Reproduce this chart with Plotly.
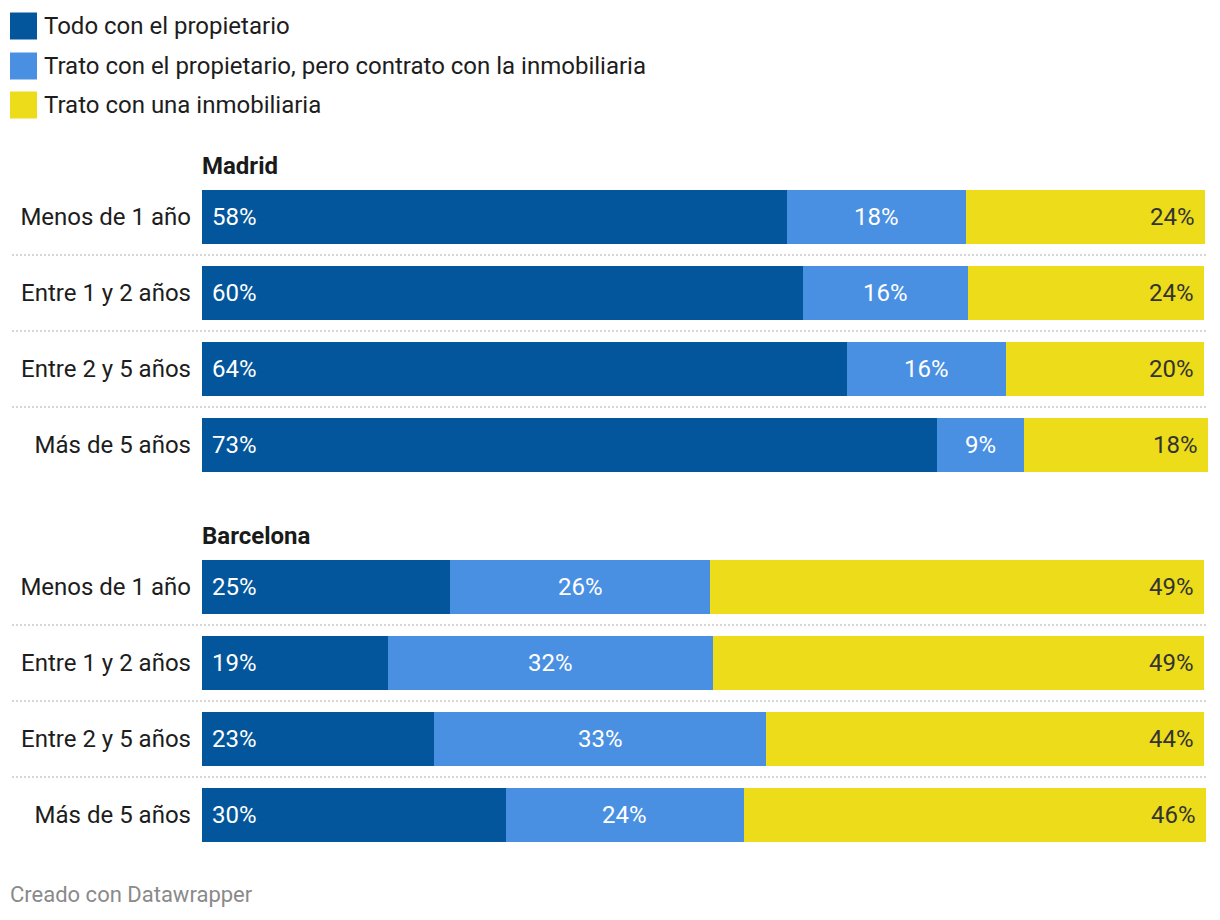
import plotly.graph_objects as go

# ---------------- data ----------------
categories = ["Menos de 1 año", "Entre 1 y 2 años", "Entre 2 y 5 años", "Más de 5 años"]
series_names = [
    "Todo con el propietario",
    "Trato con el propietario, pero contrato con la inmobiliaria",
    "Trato con una inmobiliaria",
]
madrid_propietario = [58.4, 60.0, 64.4, 73.4]
madrid_mixto = [17.8, 16.4, 15.8, 8.6]
madrid_inmobiliaria = [23.9, 23.6, 19.8, 18.4]
barcelona_propietario = [24.8, 18.6, 23.2, 30.3]
barcelona_mixto = [25.9, 32.4, 33.1, 23.8]
barcelona_inmobiliaria = [49.3, 49.0, 43.7, 46.1]
panel_titles = ["Madrid", "Barcelona"]
footer_text = "Creado con Datawrapper"

# ---------------- style ----------------
W, H = 1220, 920
colors = ["#03569b", "#4a90e2", "#ecdc19"]
label_colors = ["#ffffff", "#ffffff", "#333333"]
FONT = "Roboto"
FS = 24
x_left_px, x_right_px = 202, 1208


def py(px):
    return 1 - px / H


def pxx(px):
    return px / W


panels = [
    (panel_titles[0], [madrid_propietario, madrid_mixto, madrid_inmobiliaria], "x", "y", (179, 483)),
    (panel_titles[1], [barcelona_propietario, barcelona_mixto, barcelona_inmobiliaria], "x2", "y2", (549, 853)),
]

max_total = max(
    sum(v) for _, vals, _, _, _ in panels for v in zip(*vals)
)

fig = go.Figure()
annotations = []
shapes = []

for title, vals, xa, ya, (top_px, bot_px) in panels:
    for i, (name, v) in enumerate(zip(series_names, vals)):
        fig.add_trace(go.Bar(
            x=v, y=categories, orientation="h", name=name,
            marker=dict(color=colors[i], line=dict(width=0)),
            xaxis=xa, yaxis=ya, showlegend=False, hoverinfo="x+y",
        ))
    # value labels
    for j, cat in enumerate(categories):
        a, b, c = vals[0][j], vals[1][j], vals[2][j]
        annotations.append(dict(
            x=0, y=cat, xref=xa, yref=ya, text=f"{a:.0f}%", showarrow=False,
            xanchor="left", xshift=8, font=dict(family=FONT, size=FS, color=label_colors[0])))
        annotations.append(dict(
            x=a + b / 2, y=cat, xref=xa, yref=ya, text=f"{b:.0f}%", showarrow=False,
            xanchor="center", font=dict(family=FONT, size=FS, color=label_colors[1])))
        annotations.append(dict(
            x=a + b + c, y=cat, xref=xa, yref=ya, text=f"{c:.0f}%", showarrow=False,
            xanchor="right", xshift=-8, font=dict(family=FONT, size=FS, color=label_colors[2])))
    # separators
    for k in range(len(categories) - 1):
        shapes.append(dict(
            type="line", xref="paper", yref=ya, x0=pxx(12), x1=pxx(1208), y0=k + 0.5, y1=k + 0.5,
            line=dict(color="#d6d6d6", width=2, dash="2px,2px"), layer="below"))
    # panel title
    annotations.append(dict(
        x=pxx(x_left_px), y=py(top_px - 13), xref="paper", yref="paper", text=f"<b>{title}</b>",
        showarrow=False, xanchor="left", yanchor="middle", xshift=-2,
        font=dict(family=FONT, size=FS, color="#1a1a1a")))

# legend (custom swatches)
legend_rows_px = [26, 66, 105]
for i, (name, yc) in enumerate(zip(series_names, legend_rows_px)):
    shapes.append(dict(
        type="rect", xref="paper", yref="paper",
        x0=pxx(10), x1=pxx(37), y0=py(yc - 13.5), y1=py(yc + 13.5),
        fillcolor=colors[i], line=dict(width=0)))
    annotations.append(dict(
        x=pxx(44), y=py(yc), xref="paper", yref="paper", text=name, showarrow=False,
        xanchor="left", yanchor="middle", xshift=-2,
        font=dict(family=FONT, size=FS, color="#1d1d1d")))

# footer
annotations.append(dict(
    x=pxx(10), y=py(894), xref="paper", yref="paper", text=footer_text, showarrow=False,
    xanchor="left", yanchor="middle", xshift=-2, font=dict(family=FONT, size=22, color="#8a8a8a")))

xaxis_common = dict(range=[0, max_total], showgrid=False, zeroline=False, showticklabels=False,
                    showline=False, fixedrange=True)
yaxis_common = dict(autorange="reversed", showgrid=False, zeroline=False, showline=False,
                    ticks="", ticklabelstandoff=10, fixedrange=True,
                    tickfont=dict(family=FONT, size=FS, color="#1d1d1d"))

fig.update_layout(
    width=W, height=H, margin=dict(l=0, r=0, t=0, b=0),
    paper_bgcolor="white", plot_bgcolor="white",
    barmode="stack", bargap=22 / 76,
    font=dict(family=FONT),
    xaxis=dict(domain=[pxx(x_left_px), pxx(x_right_px)], anchor="y", **xaxis_common),
    xaxis2=dict(domain=[pxx(x_left_px), pxx(x_right_px)], anchor="y2", **xaxis_common),
    yaxis=dict(domain=[py(483), py(179)], anchor="x", **yaxis_common),
    yaxis2=dict(domain=[py(853), py(549)], anchor="x2", **yaxis_common),
    annotations=annotations, shapes=shapes,
)

fig.write_html("out.html", config={"displayModeBar": False},
               post_script="document.body.style.margin='0';document.body.style.overflow='hidden';")
